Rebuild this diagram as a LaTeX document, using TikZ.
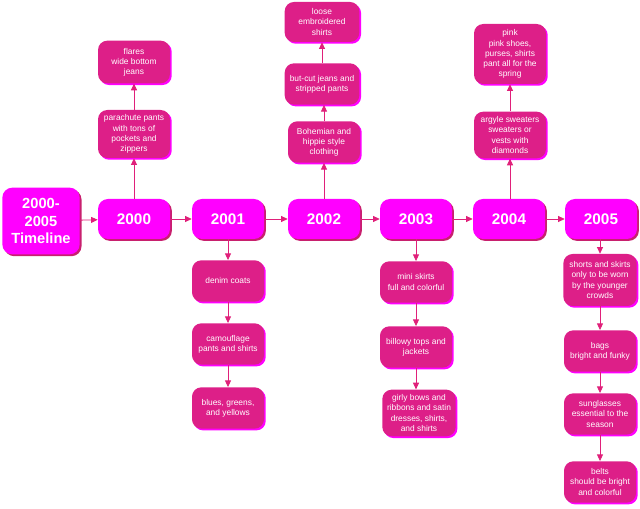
\documentclass[tikz,border=0pt]{standalone}
\usepackage{fontspec}
\setmainfont{Liberation Sans}
\usetikzlibrary{arrows.meta,shadows}
\definecolor{mag}{HTML}{FF00FF}
\definecolor{subpink}{HTML}{DD1F88}
\definecolor{mainshadow}{HTML}{C8206E}
\definecolor{linecol}{HTML}{E0207A}
\tikzset{
  mainbox/.style={rounded corners=7.5pt, fill=mag, text=white, font=\bfseries\fontsize{11.5}{12.5}\selectfont,
    minimum width=54pt, minimum height=30pt, align=center, inner sep=1pt,
    drop shadow={shadow xshift=1.4pt, shadow yshift=-1.4pt, fill=mainshadow, opacity=1}},
  subbox/.style={rounded corners=7pt, fill=subpink, text=white, font=\fontsize{6.3}{7.6}\selectfont,
    minimum width=54pt, minimum height=31pt, align=center, inner sep=1pt,
    drop shadow={shadow xshift=1.3pt, shadow yshift=-1.3pt, fill=mag, opacity=1}},
  conn/.style={draw=linecol, line width=0.6pt, -{Triangle[width=4.5pt,length=5pt]}}
}
\begin{document}
\begin{tikzpicture}[x=0.75pt,y=-0.75pt]
\useasboundingbox (0,0) rectangle (640,509);
% main nodes
\node[mainbox, minimum width=58pt, minimum height=50pt, font=\bfseries\fontsize{11}{13}\selectfont] (tl) at (41,221) {2000-\\2005\\Timeline};
\node[mainbox] (y0) at (134,219) {2000};
\node[mainbox] (y1) at (228,219) {2001};
\node[mainbox] (y2) at (324,219) {2002};
\node[mainbox] (y3) at (416,219) {2003};
\node[mainbox] (y4) at (509,219) {2004};
\node[mainbox] (y5) at (601,219) {2005};
% 2000
\node[subbox, minimum height=32pt] (a1) at (134,62) {flares\\wide bottom\\jeans};
\node[subbox, minimum height=36pt] (a2) at (134,134) {parachute pants\\with tons of\\pockets and\\zippers};
% 2001
\node[subbox] (b1) at (228,281) {denim coats};
\node[subbox] (b2) at (228,344) {camouflage\\pants and shirts};
\node[subbox] (b3) at (228,408) {blues, greens,\\and yellows};
% 2002
\node[subbox, minimum width=56pt, minimum height=30pt] (c3) at (322,22) {loose\\embroidered\\shirts};
\node[subbox, minimum width=56pt] (c2) at (322,84) {but-cut jeans and\\stripped pants};
\node[subbox] (c1) at (324,142) {Bohemian and\\hippie style\\clothing};
% 2003
\node[subbox] (d1) at (416,282) {mini skirts\\full and colorful};
\node[subbox] (d2) at (416,347) {billowy tops and\\jackets};
\node[subbox, minimum width=55pt, minimum height=35pt] (d3) at (419,413) {girly bows and\\ribbons and satin\\dresses, shirts,\\and shirts};
% 2004
\node[subbox, minimum height=45pt] (e2) at (510,54) {pink\\pink shoes,\\purses, shirts\\pant all for the\\spring};
\node[subbox, minimum height=35pt] (e1) at (510,135) {argyle sweaters\\sweaters or\\vests with\\diamonds};
% 2005
\node[subbox, minimum width=55pt, minimum height=39pt] (f1) at (600,280) {shorts and skirts\\only to be worn\\by the younger\\crowds};
\node[subbox] (f2) at (600,351) {bags\\bright and funky};
\node[subbox] (f3) at (600,414) {sunglasses\\essential to the\\season};
\node[subbox] (f4) at (600,482) {belts\\should be bright\\and colorful};
% connectors
\draw[conn] (tl) -- (y0);
\draw[conn] (y0) -- (y1);
\draw[conn] (y1) -- (y2);
\draw[conn] (y2) -- (y3);
\draw[conn] (y3) -- (y4);
\draw[conn] (y4) -- (y5);
\draw[conn] (y0) -- (a2);
\draw[conn] (a2) -- (a1);
\draw[conn] (y1) -- (b1);
\draw[conn] (b1) -- (b2);
\draw[conn] (b2) -- (b3);
\draw[conn] (y2) -- (c1);
\draw[conn] (c1.north) -- (c1.north |- c2.south);
\draw[conn] (c2) -- (c3);
\draw[conn] (y3) -- (d1);
\draw[conn] (d1) -- (d2);
\draw[conn] (d2.south) -- (d2.south |- d3.north);
\draw[conn] (y4.north -| e1.south) -- (e1);
\draw[conn] (e1) -- (e2);
\draw[conn] (y5.south -| f1.north) -- (f1);
\draw[conn] (f1) -- (f2);
\draw[conn] (f2) -- (f3);
\draw[conn] (f3) -- (f4);
\end{tikzpicture}
\end{document}
